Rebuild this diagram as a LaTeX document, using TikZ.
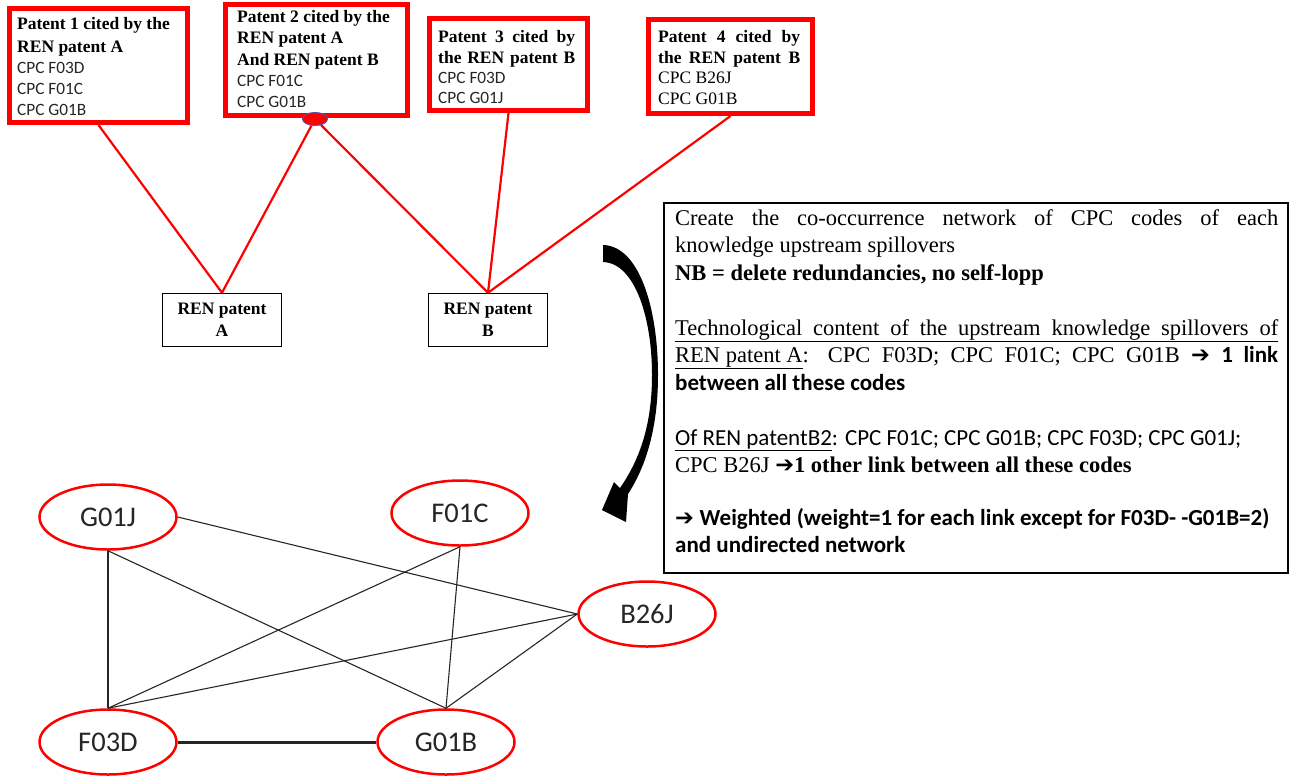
\documentclass[tikz,border=0pt]{standalone}
\usepackage{fontspec}
\setmainfont{Liberation Serif}
\newfontfamily\tmsf{Liberation Serif}
\newfontfamily\calf{Carlito}
\newfontfamily\djv{DejaVu Sans}
\newcommand\calbig{\fontsize{23}{27}\selectfont\calf}
\usetikzlibrary{shapes.geometric}
\begin{document}
\begin{tikzpicture}[x=1pt,y=-1pt,
 redbox/.style={draw=red, line width=5pt, inner sep=0pt},
 renbox/.style={draw=black, line width=1.5pt, inner sep=0pt, align=center, font=\fontsize{17.5}{22}\selectfont\tmsf\bfseries},
 ln/.style={anchor=base west, inner sep=0pt},
 bt/.style={ln, font=\fontsize{17.5}{20}\selectfont\tmsf\bfseries},
 cpc/.style={ln, font=\fontsize{17.3}{20}\selectfont\calf, text=black!85},
 cpct/.style={ln, font=\fontsize{17.5}{20}\selectfont\tmsf},
 code/.style={ellipse, draw=red, line width=2.5pt, fill=white, minimum width=137pt, minimum height=65pt, inner sep=0pt, font=\fontsize{28.5}{30}\selectfont\calf, text=black!85},
 redlink/.style={draw=red, line width=2.2pt},
 link/.style={draw=black!85, line width=1.1pt},
 tx/.style={ln, font=\fontsize{22.5}{27}\selectfont\tmsf},
]
\useasboundingbox (0,0) rectangle (1290,780);

% patent boxes
\node[redbox, minimum width=178pt, minimum height=114pt] (p1) at (98.5,65.5) {};
\node[redbox, minimum width=182pt, minimum height=111pt] (p2) at (316.5,60) {};
\node[redbox, minimum width=158pt, minimum height=92pt] (p3) at (508.5,64.5) {};
\node[redbox, minimum width=164pt, minimum height=94pt] (p4) at (730.5,66.5) {};

\node[bt] (p1a) at (17,29) {Patent 1 cited by the};
\node[bt] (p1b) at (17,52) {REN patent A};
\node[cpc] (p1c) at (17,73) {CPC F03D};
\node[cpc] (p1d) at (17,94) {CPC F01C};
\node[cpc] (p1e) at (17,115) {CPC G01B};

\node[bt] (p2a) at (237,22) {Patent 2 cited by the};
\node[bt] (p2b) at (237,43) {REN patent A};
\node[bt] (p2c) at (237,65) {And REN patent B};
\node[cpc] (p2d) at (237,86) {CPC F01C};
\node[cpc] (p2e) at (237,107) {CPC G01B};

\node[bt] (p3a) at (438,42) {\makebox[137pt][s]{Patent 3 cited by}};
\node[bt] (p3b) at (438,63) {\makebox[137pt][s]{the REN patent B}};
\node[cpc] (p3c) at (438,83) {CPC F03D};
\node[cpc] (p3d) at (438,103) {CPC G01J};

\node[bt] (p4a) at (658,42) {\makebox[142pt][s]{Patent 4 cited by}};
\node[bt] (p4b) at (658,63) {\makebox[142pt][s]{the REN patent B}};
\node[cpct] (p4c) at (658,83) {CPC B26J};
\node[cpct] (p4d) at (658,104) {CPC G01B};

% REN patents
\node[renbox, minimum width=119pt, minimum height=53pt] (renA) at (222,320) {REN patent\\A};
\node[renbox, minimum width=119pt, minimum height=53pt] (renB) at (488,320) {REN patent\\B};

% red citation links
\node[ellipse, minimum width=25pt, minimum height=13pt, inner sep=0pt] (dotc) at (315,119) {};
\draw[redlink] (p1.south) -- (renA.north);
\draw[redlink] (dotc) -- (renA.north);
\draw[redlink] (dotc) -- (renB.north);
\draw[redlink] (p3.south) -- (renB.north);
\draw[redlink] (p4.south) -- (renB.north);
\node[ellipse, fill=red, draw=blue!35!gray, line width=1pt, minimum width=25pt, minimum height=13pt, inner sep=0pt] (dot) at (315,119) {};

% curved arrow
\fill[black] (603,245) .. controls (640,246) and (658,310) .. (658,375)
  .. controls (658,430) and (645,468) .. (628,494) -- (626,522) -- (602,510) -- (614,482) -- (620,488)
  .. controls (638,462) and (652,428) .. (652,375)
  .. controls (652,318) and (635,263) .. (603,262) -- cycle;

% explanation box
\node[draw=black, line width=2.2pt, minimum width=624pt, minimum height=370pt, inner sep=0pt] (tbox) at (976,388) {};
\node[tx] (t1) at (675,225) {\makebox[603pt][s]{Create the co-occurrence network of CPC codes of each}};
\node[tx] (t2) at (675,252.5) {knowledge upstream spillovers};
\node[tx] (t3) at (675,280) {\bfseries NB = delete redundancies, no self-lopp};
\node[tx] (t4) at (675,335) {\underline{\makebox[603pt][s]{Technological content of the upstream knowledge spillovers of}}};
\node[tx] (t5) at (675,362.5) {\makebox[603pt][s]{\underline{REN patent A}: CPC F03D; CPC F01C; CPC G01B {\djv ➔} {\calbig\bfseries 1 link}}};
\node[tx] (t6) at (675,390) {\calbig\bfseries between all these codes};
\node[tx] (t7) at (675,445) {\calbig \underline{Of REN patentB2}: CPC F01C; CPC G01B; CPC F03D; CPC G01J;};
\node[tx] (t8) at (675,472.5) {CPC B26J {\djv ➔}\bfseries 1 other link between all these codes};
\node[tx] (t9) at (675,525) {{\djv ➔} \calbig\bfseries Weighted (weight=1 for each link except for F03D- -G01B=2)};
\node[tx] (t10) at (675,552) {\calbig\bfseries and undirected network};

% network
\node[code] (G01J) at (108,517) {G01J};
\node[code] (F01C) at (460,513) {F01C};
\node[code] (B26J) at (647,614) {B26J};
\node[code] (F03D) at (108,742) {F03D};
\node[code] (G01B) at (446,742) {G01B};

\draw[link] (G01J.east) -- (B26J.west);
\draw[link] (G01J.south) -- (F03D.north);
\draw[link] (G01J.south) -- (G01B.north);
\draw[link] (F01C.south) -- (F03D.north);
\draw[link] (F01C.south) -- (G01B.north);
\draw[link] (B26J.west) -- (F03D.north);
\draw[link] (B26J.west) -- (G01B.north);
\draw[link, line width=3pt] (F03D.east) -- (G01B.west);
\end{tikzpicture}
\end{document}
